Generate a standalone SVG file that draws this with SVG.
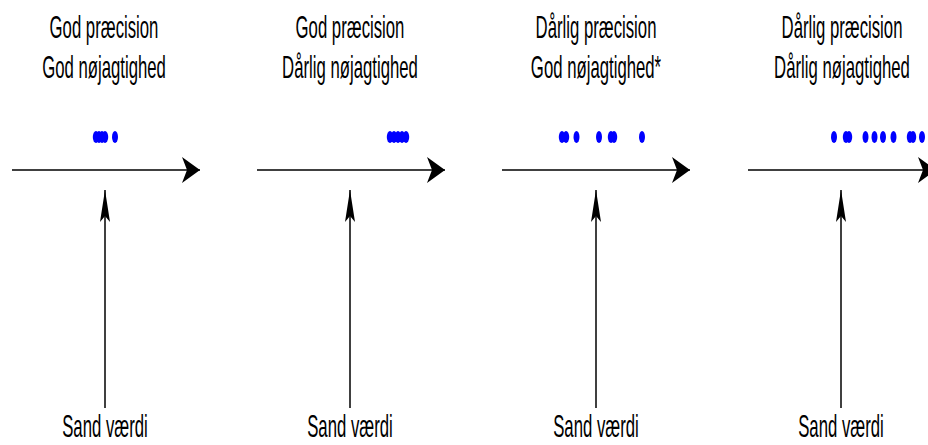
<svg xmlns="http://www.w3.org/2000/svg" width="928" height="445" viewBox="0 0 928 445">
<style>
text{font-family:"Liberation Sans",Arial,sans-serif;font-size:31px;fill:#000;text-anchor:middle}
.dot{fill:#0000ff}
.ln{stroke:#000;stroke-width:1.5;fill:none}
.h{marker-end:url(#ah)}
.v{marker-end:url(#av)}
</style>
<defs>
<marker id="ah" viewBox="0 0 18 26" refX="18" refY="13" markerWidth="18" markerHeight="26" markerUnits="userSpaceOnUse" orient="auto">
<path d="M0,0 L18,13 L0,26 L5,13 Z" fill="#000"/>
</marker>
<marker id="av" viewBox="0 0 32 10" refX="32" refY="5" markerWidth="32" markerHeight="10" markerUnits="userSpaceOnUse" orient="auto">
<path d="M0,0 L32,5 L0,10 L6,5 Z" fill="#000"/>
</marker>
</defs>
<g id="connectors">
<line class="ln h" x1="12" y1="170" x2="200" y2="170"/>
<line class="ln v" x1="105" y1="408" x2="105" y2="190"/>
<line class="ln h" x1="257" y1="170" x2="445" y2="170"/>
<line class="ln v" x1="350" y1="408" x2="350" y2="190"/>
<line class="ln h" x1="502" y1="170" x2="690" y2="170"/>
<line class="ln v" x1="596" y1="408" x2="596" y2="190"/>
<line class="ln h" x1="748" y1="170" x2="936" y2="170"/>
<line class="ln v" x1="841" y1="408" x2="841" y2="190"/>
</g>
<g id="panel1">
<text transform="translate(104,38) scale(0.54,1)">God præcision</text>
<text transform="translate(104,78) scale(0.54,1)">God nøjagtighed</text>
<g id="dots1">
<ellipse class="dot" cx="96" cy="137" rx="3.2" ry="6"/>
<ellipse class="dot" cx="99" cy="137" rx="3.2" ry="6"/>
<ellipse class="dot" cx="102" cy="137" rx="3.2" ry="6"/>
<ellipse class="dot" cx="105" cy="137" rx="3.2" ry="6"/>
<ellipse class="dot" cx="115" cy="137" rx="3" ry="6"/>
</g>
<text id="label1" transform="translate(105,437) scale(0.54,1)">Sand værdi</text>
</g>
<g id="panel2">
<text transform="translate(350,38) scale(0.54,1)">God præcision</text>
<text transform="translate(350,78) scale(0.54,1)">Dårlig nøjagtighed</text>
<g id="dots2">
<ellipse class="dot" cx="390" cy="137" rx="3.2" ry="6"/>
<ellipse class="dot" cx="394" cy="137" rx="3.2" ry="6"/>
<ellipse class="dot" cx="398" cy="137" rx="3.2" ry="6"/>
<ellipse class="dot" cx="402" cy="137" rx="3.2" ry="6"/>
<ellipse class="dot" cx="406" cy="137" rx="3.2" ry="6"/>
</g>
<text id="label2" transform="translate(350,437) scale(0.54,1)">Sand værdi</text>
</g>
<g id="panel3">
<text transform="translate(596,38) scale(0.54,1)">Dårlig præcision</text>
<text transform="translate(596,78) scale(0.54,1)">God nøjagtighed*</text>
<g id="dots3">
<ellipse class="dot" cx="562" cy="137" rx="3.2" ry="6"/>
<ellipse class="dot" cx="566" cy="137" rx="3.2" ry="6"/>
<ellipse class="dot" cx="576.5" cy="137" rx="3" ry="6"/>
<ellipse class="dot" cx="599" cy="137" rx="3" ry="6"/>
<ellipse class="dot" cx="611" cy="137" rx="3.2" ry="6"/>
<ellipse class="dot" cx="614" cy="137" rx="3.2" ry="6"/>
<ellipse class="dot" cx="642" cy="137" rx="3" ry="6"/>
</g>
<text id="label3" transform="translate(596,437) scale(0.54,1)">Sand værdi</text>
</g>
<g id="panel4">
<text transform="translate(842,38) scale(0.54,1)">Dårlig præcision</text>
<text transform="translate(842,78) scale(0.54,1)">Dårlig nøjagtighed</text>
<g id="dots4">
<ellipse class="dot" cx="834" cy="137" rx="3" ry="6"/>
<ellipse class="dot" cx="846" cy="137" rx="3.2" ry="6"/>
<ellipse class="dot" cx="849" cy="137" rx="3.2" ry="6"/>
<ellipse class="dot" cx="865.5" cy="137" rx="3" ry="6"/>
<ellipse class="dot" cx="874.5" cy="137" rx="3" ry="6"/>
<ellipse class="dot" cx="883" cy="137" rx="3" ry="6"/>
<ellipse class="dot" cx="893.5" cy="137" rx="3" ry="6"/>
<ellipse class="dot" cx="910" cy="137" rx="3.2" ry="6"/>
<ellipse class="dot" cx="913" cy="137" rx="3.2" ry="6"/>
<ellipse class="dot" cx="922" cy="137" rx="3" ry="6"/>
</g>
<text id="label4" transform="translate(841,437) scale(0.54,1)">Sand værdi</text>
</g>
</svg>
